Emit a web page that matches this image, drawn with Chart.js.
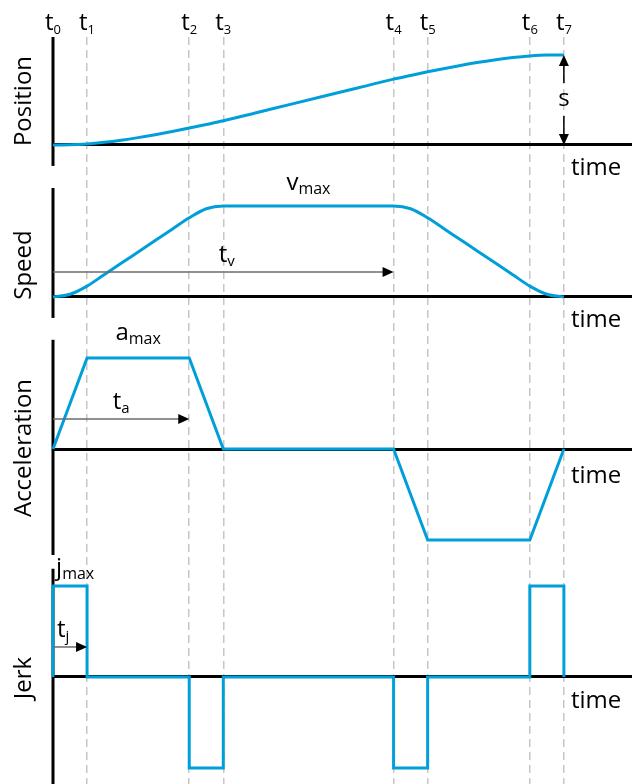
<!DOCTYPE html>
<html lang="en">
<head>
<meta charset="UTF-8">
<title>Jerk-limited motion profile</title>
<script src="https://cdn.jsdelivr.net/npm/chart.js@4"></script>
<style>
  body { margin: 0; background: #fff; }
  canvas { display: block; }
</style>
</head>
<body>
<canvas id="profile" width="639" height="784"></canvas>
<script>
// time markers t0..t7
const times = [0, 1, 4, 5, 10, 11, 14, 15];
const timeSubs = ['0', '1', '2', '3', '4', '5', '6', '7'];

// position curve (s = 40 at t7)
const posT = [0, 0.5, 1, 1.5, 2, 2.5, 3, 3.5, 4, 4.5, 5, 6, 7, 8, 9, 10, 10.5, 11, 11.5, 12, 12.5, 13, 13.5, 14, 14.5, 15];
const posV = [0, 0.08, 0.48, 1.18, 2.13, 3.28, 4.58, 6.0, 7.52, 9.12, 10.77, 14.47, 18.17, 21.87, 25.57, 29.27, 30.92, 32.52, 34.04, 35.46, 36.76, 37.91, 38.86, 39.56, 39.96, 40];

// speed curve (vmax = 4)
const speedT = [0, 0.5, 1, 1.5, 2, 2.5, 3, 3.5, 4, 4.5, 5, 10, 10.5, 11, 11.5, 12, 12.5, 13, 13.5, 14, 14.5, 15];
const speedV = [0, 0.12, 0.48, 0.98, 1.48, 1.98, 2.48, 2.98, 3.48, 3.88, 4, 4, 3.88, 3.48, 2.98, 2.48, 1.98, 1.48, 0.98, 0.48, 0.12, 0];

// acceleration (amax = 1)
const accelT = [0, 1, 4, 5, 10, 11, 14, 15];
const accelV = [0, 1, 1, 0, 0, -1, -1, 0];

// jerk (jmax = 1)
const jerkT = [0, 0, 1, 1, 4, 4, 5, 5, 10, 10, 11, 11, 14, 14, 15, 15];
const jerkV = [0, 1, 1, 0, 0, -1, -1, 0, 0, -1, -1, 0, 0, 1, 1, 0];

const FONT = "'Open Sans', 'DejaVu Sans', sans-serif";
const BLUE = '#009fda';

const toPts = (xs, ys) => xs.map((x, i) => ({ x: x, y: ys[i] }));

// vertical axis spans per panel (value range)
const axisSpans = { yPos: [48, -9.3], ySpeed: [4.79, -0.92], yAcc: [1.2, -1.165], yJerk: [1.19, -1.18] };

// labels: [scale, t, value, main, sub, subSize, dy]
const maxLabels = [
  ['ySpeed', 7.5, 4, 'v', 'max', 16, -16],
  ['yAcc', 2.5, 1, 'a', 'max', 16, -18],
  ['yJerk', 0.65, 1, 'j', 'max', 16, -11]
];
// duration arrows: [scale, tEnd, value, sub]
const durArrows = [
  ['ySpeed', 10, 1.1, 'v'],
  ['yAcc', 4, 0.33, 'a'],
  ['yJerk', 1, 0.33, 'j']
];
const durLabelT = [5.1, 2, 0.3];
const timeLabelDy = { yPos: 30, ySpeed: 30, yAcc: 34, yJerk: 31 };

function drawSub(ctx, main, sub, x, y, size, subSize) {
  ctx.textAlign = 'left';
  ctx.textBaseline = 'alphabetic';
  ctx.font = size + 'px ' + FONT;
  const w1 = ctx.measureText(main).width;
  ctx.font = subSize + 'px ' + FONT;
  const w2 = ctx.measureText(sub).width;
  const x0 = x - (w1 + w2) / 2;
  ctx.font = size + 'px ' + FONT;
  ctx.fillText(main, x0, y);
  ctx.font = subSize + 'px ' + FONT;
  ctx.fillText(sub, x0 + w1, y + 4);
}

function head(ctx, x, y, dir) {
  ctx.beginPath();
  if (dir === 'r') { ctx.moveTo(x, y); ctx.lineTo(x - 11, y - 5); ctx.lineTo(x - 11, y + 5); }
  if (dir === 'u') { ctx.moveTo(x, y); ctx.lineTo(x - 5, y + 11); ctx.lineTo(x + 5, y + 11); }
  if (dir === 'd') { ctx.moveTo(x, y); ctx.lineTo(x - 5, y - 11); ctx.lineTo(x + 5, y - 11); }
  ctx.closePath();
  ctx.fill();
}

const decor = {
  id: 'decor',
  beforeDatasetsDraw(chart) {
    const ctx = chart.ctx, xs = chart.scales.x;
    ctx.save();
    ctx.strokeStyle = '#000';
    ctx.lineWidth = 3;
    Object.keys(axisSpans).forEach(id => {
      const ys = chart.scales[id];
      const x = xs.getPixelForValue(0);
      ctx.beginPath();
      ctx.moveTo(x, ys.getPixelForValue(axisSpans[id][0]));
      ctx.lineTo(x, ys.getPixelForValue(axisSpans[id][1]));
      ctx.stroke();
    });
    ctx.restore();
  },
  afterDatasetsDraw(chart) {
    const ctx = chart.ctx, xs = chart.scales.x;
    ctx.save();
    ctx.fillStyle = '#000';

    // t0..t7 on top
    times.forEach((t, i) => drawSub(ctx, 't', timeSubs[i], xs.getPixelForValue(t), 30, 24, 13));

    // "time" labels
    const tEnd = xs.getPixelForValue(times[times.length - 1]);
    Object.keys(timeLabelDy).forEach(id => {
      ctx.font = '24px ' + FONT;
      ctx.textAlign = 'left';
      ctx.textBaseline = 'alphabetic';
      ctx.fillText('time', tEnd + 7, chart.scales[id].getPixelForValue(0) + timeLabelDy[id]);
    });

    // max labels
    maxLabels.forEach(([id, t, v, m, s, ss, dy]) => {
      drawSub(ctx, m, s, xs.getPixelForValue(t), chart.scales[id].getPixelForValue(v) + dy, 24, ss);
    });

    // duration arrows
    durArrows.forEach(([id, t, v, s], i) => {
      const y = chart.scales[id].getPixelForValue(v);
      const x0 = xs.getPixelForValue(0), x1 = xs.getPixelForValue(t);
      ctx.strokeStyle = '#6b6b6b';
      ctx.lineWidth = 1.5;
      ctx.beginPath();
      ctx.moveTo(x0, y);
      ctx.lineTo(x1 - 9, y);
      ctx.stroke();
      ctx.fillStyle = '#000';
      head(ctx, x1, y, 'r');
      drawSub(ctx, 't', s, xs.getPixelForValue(durLabelT[i]), y - 10, 24, 15);
    });

    // s arrow
    const ps = chart.scales.yPos;
    const sx = xs.getPixelForValue(15);
    const yTop = ps.getPixelForValue(posV[posV.length - 1]);
    const yBot = ps.getPixelForValue(0);
    const yMid = (yTop + yBot) / 2;
    ctx.strokeStyle = '#000';
    ctx.lineWidth = 1.5;
    ctx.beginPath();
    ctx.moveTo(sx, yTop + 9); ctx.lineTo(sx, yMid - 17);
    ctx.moveTo(sx, yMid + 16); ctx.lineTo(sx, yBot - 9);
    ctx.stroke();
    head(ctx, sx, yTop, 'u');
    head(ctx, sx, yBot, 'd');
    ctx.font = '24px ' + FONT;
    ctx.textAlign = 'center';
    ctx.textBaseline = 'middle';
    ctx.fillText('s', sx, yMid - 1);
    ctx.restore();
  }
};

function yScale(title, min, max, weight, stackWeight) {
  return {
    type: 'linear',
    position: 'left',
    stack: 'profile',
    stackWeight: stackWeight,
    weight: weight,
    min: min,
    max: max,
    afterBuildTicks: s => { s.ticks = [{ value: 0 }]; },
    ticks: { display: false },
    grid: { color: '#000', lineWidth: 3, drawTicks: false },
    border: { display: false },
    title: {
      display: !!title,
      text: title,
      color: '#000',
      font: { family: FONT, size: 24, lineHeight: 1.2 },
      padding: { top: 1, bottom: 14 }
    }
  };
}

function series(xs, ys, axis, smooth) {
  return {
    data: toPts(xs, ys),
    yAxisID: axis,
    borderColor: BLUE,
    borderWidth: 3,
    pointRadius: 0,
    fill: false,
    clip: false,
    borderJoinStyle: 'miter',
    cubicInterpolationMode: smooth ? 'monotone' : 'default',
    tension: 0
  };
}

// empty band between the acceleration and jerk panels
const gapScale = yScale('', 0, 1, 2, 41);
gapScale.grid = { display: false, drawTicks: false };

new Chart(document.getElementById('profile'), {
  type: 'line',
  data: {
    datasets: [
      series(posT, posV, 'yPos', true),
      series(speedT, speedV, 'ySpeed', true),
      series(accelT, accelV, 'yAcc', false),
      series(jerkT, jerkV, 'yJerk', false)
    ]
  },
  options: {
    responsive: false,
    animation: false,
    devicePixelRatio: 1,
    layout: { padding: { left: 9.2, right: 7, top: 37, bottom: 0 } },
    plugins: { legend: { display: false }, tooltip: { enabled: false } },
    scales: {
      x: {
        type: 'linear',
        min: 0,
        max: 17,
        afterBuildTicks: s => { s.ticks = times.map(v => ({ value: v })); },
        ticks: { display: false },
        grid: {
          color: c => (c.tick && c.tick.value === 0) ? 'rgba(0,0,0,0)' : '#c6c6c6',
          lineWidth: 1.5,
          drawTicks: false
        },
        border: { display: false, dash: [8, 5] }
      },
      yPos: yScale('Position', -8.889, 48, 5, 128),
      ySpeed: yScale('Speed', -2.989, 5.802, 4, 200),
      yAcc: yScale('Acceleration', -0.9011, 0.9231, 3, 166),
      yGap: gapScale,
      yJerk: yScale('Jerk', -1.176, 1.154, 1, 212)
    }
  },
  plugins: [decor]
});
</script>
</body>
</html>
